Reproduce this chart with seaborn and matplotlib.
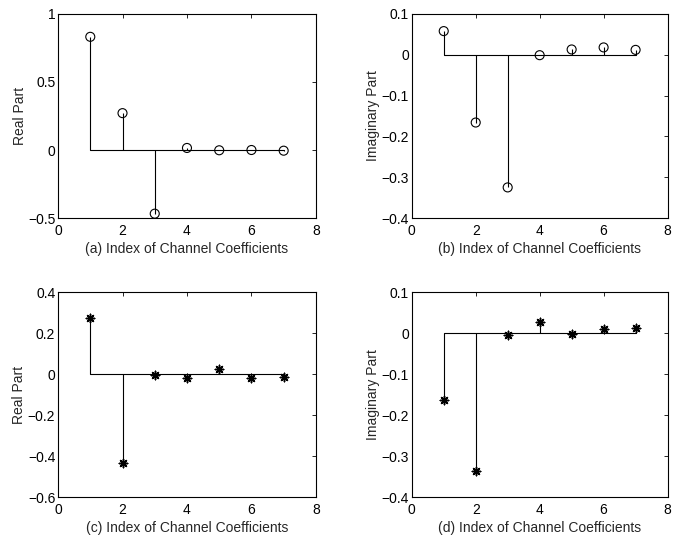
import numpy as np
import pandas as pd
import seaborn as sns
import matplotlib
matplotlib.use('Agg')
import matplotlib.pyplot as plt
from matplotlib.ticker import FuncFormatter

# Channel coefficient values
idx = [1, 2, 3, 4, 5, 6, 7]
real_a = [0.832, 0.271, -0.468, 0.015, -0.002, 0.0, -0.005]
imag_b = [0.058, -0.166, -0.325, -0.001, 0.013, 0.018, 0.012]
real_c = [0.276, -0.432, -0.005, -0.020, 0.026, -0.018, -0.013]
imag_d = [-0.162, -0.335, -0.004, 0.026, -0.002, 0.011, 0.013]

panels = [
    ('(a) Index of Channel Coefficients', 'Real Part', real_a, 'o', (-0.5, 1), [-0.5, 0, 0.5, 1]),
    ('(b) Index of Channel Coefficients', 'Imaginary Part', imag_b, 'o', (-0.4, 0.1), [-0.4, -0.3, -0.2, -0.1, 0, 0.1]),
    ('(c) Index of Channel Coefficients', 'Real Part', real_c, '*', (-0.6, 0.4), [-0.6, -0.4, -0.2, 0, 0.2, 0.4]),
    ('(d) Index of Channel Coefficients', 'Imaginary Part', imag_d, '*', (-0.4, 0.1), [-0.4, -0.3, -0.2, -0.1, 0, 0.1]),
]

sns.set_style('white')
plt.rcParams['font.family'] = ['Liberation Sans', 'DejaVu Sans']
plt.rcParams['font.size'] = 10
plt.rcParams['axes.unicode_minus'] = True

fig = plt.figure(figsize=(6.75, 5.37), dpi=100)
positions = [
    [0.086, 0.594, 0.382, 0.380],
    [0.610, 0.594, 0.379, 0.380],
    [0.086, 0.074, 0.382, 0.382],
    [0.610, 0.074, 0.379, 0.382],
]

fmt = FuncFormatter(lambda v, p: ('%g' % v).replace('-', '\u2212'))

for pos, (xl, yl, vals, mk, ylim, yt) in zip(positions, panels):
    ax = fig.add_axes(pos)
    df = pd.DataFrame({'n': idx, 'h': vals})
    ax.vlines(df['n'], 0, df['h'], color='black', linewidth=0.8)
    ax.plot([idx[0], idx[-1]], [0, 0], color='black', linewidth=0.8)
    if mk == 'o':
        sns.scatterplot(data=df, x='n', y='h', ax=ax, marker='o', s=42,
                        facecolor='none', edgecolor='black', linewidth=0.8, zorder=3)
    else:
        sns.scatterplot(data=df, x='n', y='h', ax=ax, marker=(8, 2, 0), s=36,
                        color='black', edgecolor='black', linewidth=1.1, zorder=3)
    ax.set_xlim(0, 8)
    ax.set_ylim(*ylim)
    ax.set_xticks([0, 2, 4, 6, 8])
    ax.set_yticks(yt)
    ax.xaxis.set_major_formatter(fmt)
    ax.yaxis.set_major_formatter(fmt)
    ax.tick_params(direction='in', top=True, right=True, length=3, width=0.6,
                   labelsize=10, pad=2, colors='black')
    ax.tick_params(axis='x', pad=4)
    for s in ax.spines.values():
        s.set_color('black')
        s.set_linewidth(0.8)
    ax.set_xlabel(xl, fontsize=10, labelpad=3)
    ax.set_ylabel(yl, fontsize=10, labelpad=1)

fig.savefig('out.png', dpi=100)
